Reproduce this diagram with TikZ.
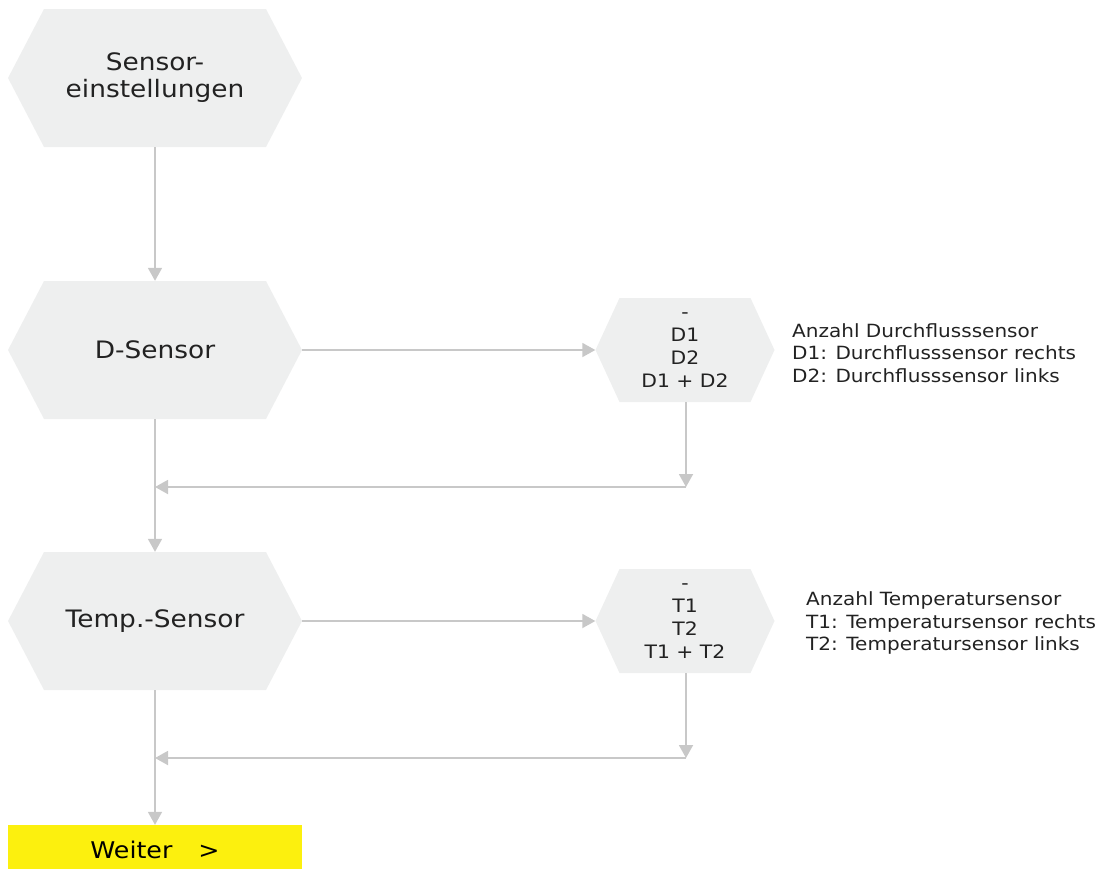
\documentclass[tikz,border=0pt]{standalone}
\usepackage{fontspec}
\setmainfont{DejaVu Sans}[FakeStretch=1.1]
\usetikzlibrary{arrows.meta}
\usetikzlibrary{positioning}

\definecolor{hexgray}{HTML}{EEEFEF}
\definecolor{linegray}{HTML}{C8C8C8}
\definecolor{nextyellow}{HTML}{FCF00E}
\definecolor{textgray}{HTML}{222222}

\tikzset{
  hexshape/.style={
    path picture={
      \fill[hexgray] (path picture bounding box.west)
        -- ([xshift=#1]path picture bounding box.north west)
        -- ([xshift=-#1]path picture bounding box.north east)
        -- (path picture bounding box.east)
        -- ([xshift=-#1]path picture bounding box.south east)
        -- ([xshift=#1]path picture bounding box.south west) -- cycle;
    }},
  bighex/.style={hexshape=36pt, minimum width=294pt, minimum height=138pt,
    inner sep=0pt, align=center, text=textgray,
    font=\fontsize{24}{27}\selectfont},
  smallhex/.style={hexshape=24pt, minimum width=179pt, minimum height=104pt,
    inner sep=0pt, align=center, text=textgray,
    font=\fontsize{18.5}{23}\selectfont},
  infotext/.style={anchor=west, inner sep=0pt, align=left, text=textgray,
    font=\fontsize{18.2}{22.5}\selectfont},
  nextbox/.style={fill=nextyellow, minimum width=294pt, minimum height=50pt,
    inner sep=0pt, text=black, font=\fontsize{23}{26}\selectfont},
  arr/.style={draw=linegray, line width=1.8pt,
    -{Triangle[width=14pt,length=13pt]}},
}

\begin{document}
\begin{tikzpicture}[x=1pt,y=-1pt]
  \useasboundingbox (0,0) rectangle (1115,868);

  \node[bighex] (setup) at (155,78) {Sensor-\\einstellungen};
  \node[bighex] (dsens) at (155,350) {D-Sensor};
  \node[bighex] (tsens) at (155,621) {Temp.-Sensor};
  \node[nextbox] (next) at (155,850) {Weiter\hspace{26pt}>};

  \node[smallhex] (dcount) at (685,350) {-\\D1\\D2\\D1 + D2};
  \node[smallhex] (tcount) at (685,621) {-\\T1\\T2\\T1 + T2};

  \node[infotext] (dinfo) at (792,353)
    {Anzahl Durchflusssensor\\D1: Durchflusssensor rechts\\D2: Durchflusssensor links};
  \node[infotext] (tinfo) at (806,623)
    {Anzahl Temperatursensor\\T1: Temperatursensor rechts\\T2: Temperatursensor links};

  \coordinate (dmerge) at (686,487);
  \coordinate (tmerge) at (686,758);

  % main line
  \draw[arr] (setup) -- (dsens);
  \draw[arr] (dsens) -- (tsens);
  \draw[arr] (tsens) -- (next);

  % side branches
  \draw[arr] (dsens) -- (dcount);
  \draw[arr] (dcount.south -| dmerge) -- (dmerge);
  \draw[arr] (dmerge) -- (dmerge -| dsens.south);
  \draw[arr] (tsens) -- (tcount);
  \draw[arr] (tcount.south -| tmerge) -- (tmerge);
  \draw[arr] (tmerge) -- (tmerge -| tsens.south);
\end{tikzpicture}
\end{document}
